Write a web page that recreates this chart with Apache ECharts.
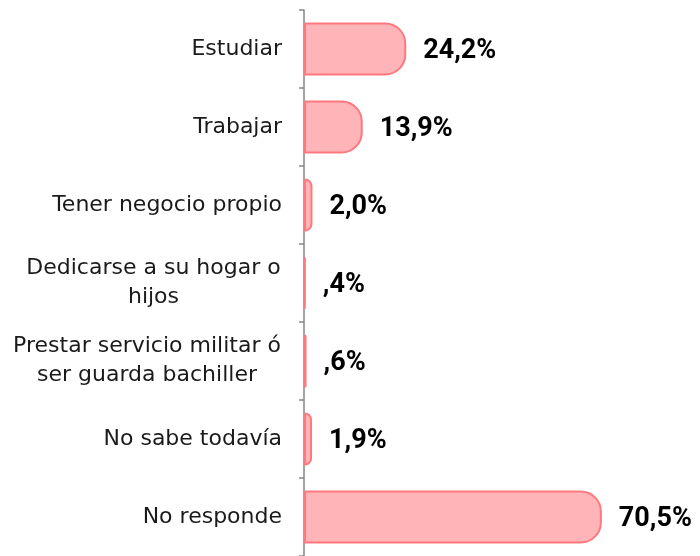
<!DOCTYPE html>
<html>
<head>
<meta charset="utf-8">
<script src="https://cdn.jsdelivr.net/npm/echarts@6/dist/echarts.min.js"></script>
<style>
  html, body { margin: 0; padding: 0; background: #fff; }
  #chart { width: 700px; height: 556px; }
</style>
</head>
<body>
<div id="chart"></div>
<script>
const categories = [
  'Estudiar',
  'Trabajar',
  'Tener negocio propio',
  'Dedicarse a su hogar o\nhijos',
  'Prestar servicio militar ó\nser guarda bachiller',
  'No sabe todavía',
  'No responde'
];
const percentages = [24.2, 13.9, 2.0, 0.4, 0.6, 1.9, 70.5];

const labelFont = '22px "DejaVu Sans"';

// "0,4%" is shown as ",4%" in the original
function fmtPct(v) {
  let s = v.toFixed(1).replace('.', ',');
  if (s.startsWith('0')) s = s.slice(1);
  return s + '%';
}

// multi-line labels: lines centred inside a block that is right-aligned
const ctx = document.createElement('canvas').getContext('2d');
ctx.font = labelFont;
const rich = {};
categories.forEach((c, i) => {
  if (c.indexOf('\n') < 0) return;
  const w = Math.max(...c.split('\n').map(l => ctx.measureText(l).width));
  rich['c' + i] = {
    width: Math.ceil(w) + 2,
    align: 'center',
    fontFamily: 'DejaVu Sans',
    fontSize: 22,
    color: '#1a1a1a',
    lineHeight: 29
  };
});

let myChart = echarts.init(document.getElementById('chart'));
myChart.setOption({
  animation: false,
  grid: {
    left: 304,
    right: 58,
    top: 10,
    bottom: -1
  },
  xAxis: {
    type: 'value',
    min: 0,
    max: 80,
    show: false,
    splitLine: { show: false }
  },
  yAxis: {
    type: 'category',
    inverse: true,
    data: categories,
    axisLine: {
      show: true,
      lineStyle: { color: '#868686', width: 1.5 }
    },
    axisTick: {
      show: true,
      length: 5,
      lineStyle: { color: '#868686', width: 1.5 }
    },
    axisLabel: {
      margin: 22,
      fontFamily: 'DejaVu Sans',
      fontSize: 22,
      color: '#1a1a1a',
      lineHeight: 29,
      formatter: function (v, i) {
        if (v.indexOf('\n') < 0) return v;
        return v.split('\n').map(l => '{c' + i + '|' + l + '}').join('\n');
      },
      rich: rich
    }
  },
  series: [
    {
      type: 'bar',
      data: percentages,
      barWidth: 53,
      itemStyle: {
        color: '#ffb5b8',
        borderColor: '#ff787e',
        borderWidth: 2,
        borderRadius: [0, 20, 20, 0]
      },
      label: {
        show: true,
        position: 'right',
        distance: 17,
        offset: [0, 2],
        fontFamily: 'Roboto',
        fontWeight: 'bold',
        fontSize: 27,
        color: '#000',
        formatter: p => fmtPct(p.value)
      }
    }
  ]
});
</script>
</body>
</html>
